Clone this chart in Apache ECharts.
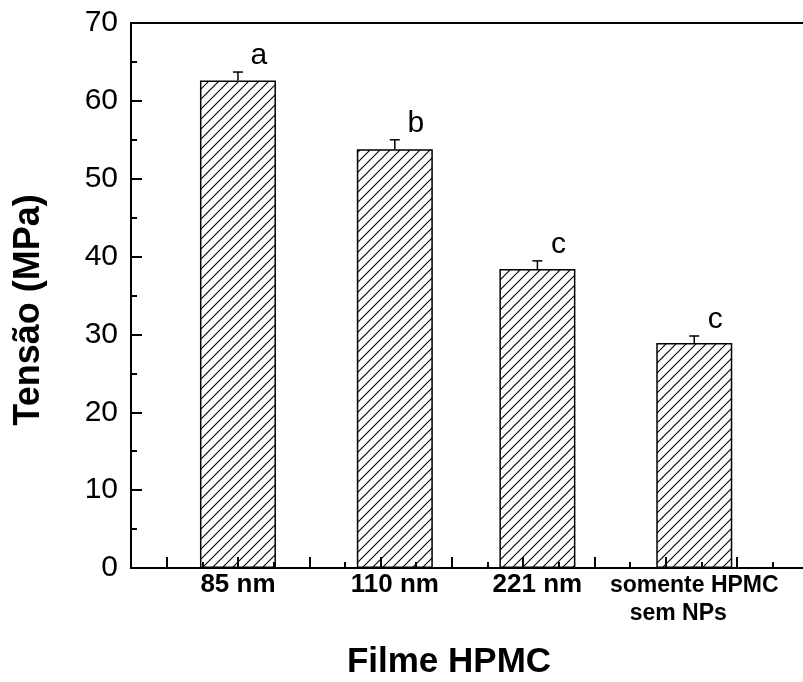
<!DOCTYPE html>
<html><head><meta charset="utf-8">
<script src="https://cdn.jsdelivr.net/npm/echarts@6/dist/echarts.min.js"></script>
<style>html,body{margin:0;padding:0;background:#fff}#c{width:803px;height:682px}</style>
</head><body><div id="c"></div>
<script>
const categories = ['85 nm', '110 nm', '221 nm', 'somente HPMC\nsem NPs'];
const xPositions = [1, 3.2, 5.2, 7.4];
const tensao = [62.6, 53.8, 38.4, 28.9];
const erro = [1.1, 1.2, 1.05, 0.9];
const letras = ['a', 'b', 'c', 'c'];
const majorXTicks = [0, 1, 2, 3, 4, 5, 6, 7, 8];
const minorXTicks = [0.5, 1.5, 2.5, 3.5, 4.5, 5.5, 6.5, 7.5, 8.5];

const FONT = '"Liberation Sans", Arial, sans-serif';

function hatch() {
  const s = 10, c = document.createElement('canvas');
  c.width = s; c.height = s;
  const g = c.getContext('2d');
  g.fillStyle = '#fff'; g.fillRect(0, 0, s, s);
  g.strokeStyle = '#000'; g.lineWidth = 1.1;
  g.beginPath();
  g.moveTo(-1, s + 1); g.lineTo(s + 1, -1);
  g.moveTo(-1, 1); g.lineTo(1, -1);
  g.moveTo(s - 1, s + 1); g.lineTo(s + 1, s - 1);
  g.stroke();
  return c;
}

function labelFor(v) {
  let idx = 0, best = 1e9;
  xPositions.forEach((x, i) => { const d = Math.abs(x - v); if (d < best) { best = d; idx = i; } });
  const parts = categories[idx].split('\n');
  if (parts.length > 1) return '{l|' + parts[0] + '}\n{s|' + parts[1] + '}';
  return '{n|' + parts[0] + '}';
}

const chart = echarts.init(document.getElementById('c'), null, { renderer: 'canvas' });
const option = {
  animation: false,
  backgroundColor: '#fff',
  grid: [
    { left: 131, top: 23, width: 713, height: 545, outerBoundsMode: 'none', containLabel: false, show: true, borderColor: '#000', borderWidth: 2, backgroundColor: 'transparent' },
    { left: 131, top: 23, width: 713, height: 545, outerBoundsMode: 'none', containLabel: false }
  ],
  xAxis: [
    {
      type: 'value', gridIndex: 0, min: -0.5, max: 9.5, z: 5,
      axisLine: { show: true, onZero: false, lineStyle: { color: '#000', width: 2 } },
      axisTick: { show: true, inside: true, length: 11, customValues: majorXTicks, lineStyle: { color: '#000', width: 2 } },
      splitLine: { show: false },
      axisLabel: {
        customValues: xPositions, margin: 4, formatter: labelFor,
        rich: {
          n: { fontSize: 26, fontWeight: 'bold', fontFamily: FONT, color: '#000' },
          l: { fontSize: 23, fontWeight: 'bold', fontFamily: FONT, color: '#000', lineHeight: 28 },
          s: { fontSize: 23, fontWeight: 'bold', fontFamily: FONT, color: '#000', lineHeight: 28, padding: [0, 32, 0, 0] }
        }
      }
    },
    {
      type: 'value', gridIndex: 1, min: -0.5, max: 9.5, z: 5,
      axisLine: { show: false, onZero: false },
      axisTick: { show: true, inside: true, length: 6, customValues: minorXTicks, lineStyle: { color: '#000', width: 2 } },
      axisLabel: { show: false },
      splitLine: { show: false }
    }
  ],
  yAxis: [
    {
      type: 'value', gridIndex: 0, min: 0, max: 70, interval: 10,
      axisLine: { show: true, onZero: false, lineStyle: { color: '#000', width: 2 } },
      axisTick: { show: true, inside: true, length: 11, lineStyle: { color: '#000', width: 2 } },
      minorTick: { show: true, splitNumber: 2, length: 6, lineStyle: { color: '#000', width: 2 } },
      splitLine: { show: false },
      axisLabel: { color: '#000', fontSize: 30, fontFamily: FONT, margin: 13 }
    },
    { type: 'value', gridIndex: 1, min: 0, max: 70, show: false, axisLine: { onZero: false }, splitLine: { show: false } }
  ],
  series: [
    {
      type: 'bar', xAxisIndex: 0, yAxisIndex: 0, barWidth: 76,
      data: xPositions.map((x, i) => [x, tensao[i]]),
      itemStyle: { color: { image: hatch(), repeat: 'repeat' }, borderColor: '#000', borderWidth: 1.5 }
    },
    {
      type: 'custom', xAxisIndex: 0, yAxisIndex: 0, z: 10,
      data: xPositions.map((x, i) => [x, tensao[i], erro[i]]),
      encode: { x: 0, y: 1 },
      renderItem: function (params, api) {
        const x = api.value(0), v = api.value(1), e = api.value(2);
        const p0 = api.coord([x, v]), p1 = api.coord([x, v + e]);
        return {
          type: 'group', children: [
            { type: 'line', shape: { x1: p0[0], y1: p0[1], x2: p1[0], y2: p1[1] }, style: { stroke: '#000', lineWidth: 1.5 } },
            { type: 'line', shape: { x1: p1[0] - 5, y1: p1[1], x2: p1[0] + 5, y2: p1[1] }, style: { stroke: '#000', lineWidth: 1.5 } },
            { type: 'text', x: p1[0] + 21, y: p1[1] - 1, style: { text: letras[params.dataIndex], fontSize: 30, fontFamily: FONT, fill: '#000', align: 'center', verticalAlign: 'bottom' } }
          ]
        };
      }
    }
  ],
  graphic: [
    { type: 'text', x: 29, y: 310, rotation: Math.PI / 2, style: { text: 'Tensão (MPa)', fontSize: 36, fontWeight: 'bold', fontFamily: FONT, fill: '#000', align: 'center', verticalAlign: 'middle', textAlign: 'center', textVerticalAlign: 'middle' } },
    { type: 'text', x: 449, y: 662, style: { text: 'Filme HPMC', fontSize: 35, fontWeight: 'bold', fontFamily: FONT, fill: '#000', align: 'center', verticalAlign: 'middle', textAlign: 'center', textVerticalAlign: 'middle' } }
  ]
};
chart.setOption(option);
</script>
</body></html>
